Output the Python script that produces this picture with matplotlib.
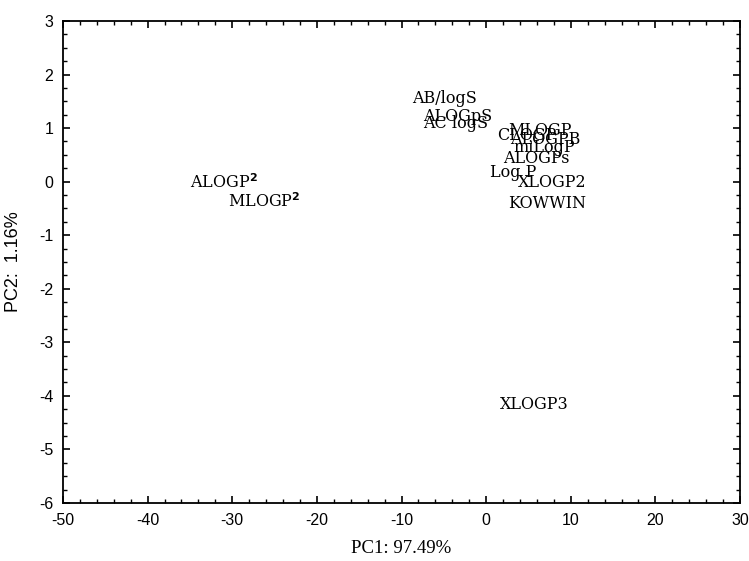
import matplotlib
matplotlib.use("Agg")
import matplotlib.pyplot as plt
from matplotlib.ticker import MultipleLocator

plt.rcParams['axes.unicode_minus'] = False

labels = ["AB/logS", "ALOGpS", "AC logS", "MLOGP", "CLOGP", "ALOGPB", "miLogP",
          "ALOGPs", "Log P", "XLOGP2", "KOWWIN", "XLOGP3",
          r"ALOGP$^{\mathbf{2}}$", r"MLOGP$^{\mathbf{2}}$"]
pc1 = [-8.7, -7.4, -7.4, 2.6, 1.3, 2.8, 3.2, 2.0, 0.5, 3.8, 2.6, 1.65, -35.0, -30.5]
pc2 = [1.56, 1.21, 1.09, 0.96, 0.87, 0.78, 0.63, 0.44, 0.18, -0.02, -0.40, -4.17, -0.02, -0.38]

fig = plt.figure(figsize=(7.49, 5.61), dpi=100)
ax = fig.add_axes([0.0841, 0.1034, 0.988 - 0.0841, 0.9626 - 0.1034])
ax.set_xlim(-50, 30)
ax.set_ylim(-6, 3)

for lab, x, y in zip(labels, pc1, pc2):
    ax.text(x, y, lab, ha="left", va="center", fontsize=11.5,
            family="DejaVu Serif", color="black")

ax.xaxis.set_major_locator(MultipleLocator(10))
ax.xaxis.set_minor_locator(MultipleLocator(2))
ax.yaxis.set_major_locator(MultipleLocator(1))
ax.yaxis.set_minor_locator(MultipleLocator(0.25))
ax.tick_params(which="both", direction="in", top=True, right=True)
ax.tick_params(which="major", length=5, width=1.2, pad=7)
ax.tick_params(which="minor", length=3, width=1)
for lab in ax.get_xticklabels() + ax.get_yticklabels():
    lab.set_family("Liberation Sans")
    lab.set_fontsize(11.5)
for s in ax.spines.values():
    s.set_linewidth(1.3)

ax.set_xlabel("PC1: 97.49%", family="Liberation Serif", fontsize=13.5, labelpad=9)
ax.set_ylabel("PC2:  1.16%", family="Liberation Sans", fontsize=13, labelpad=12)

fig.savefig("out.png", dpi=100)
